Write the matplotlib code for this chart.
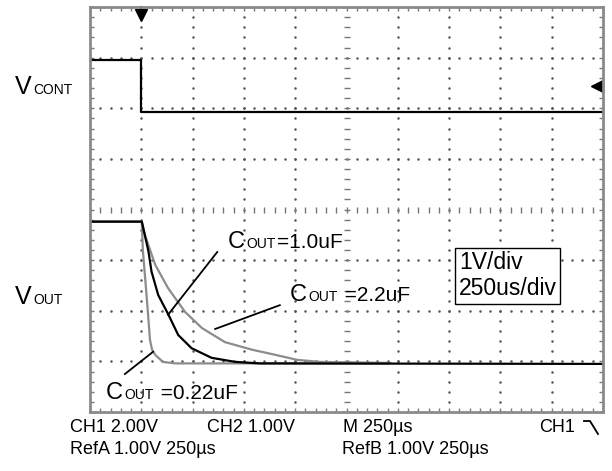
import numpy as np
import matplotlib
matplotlib.use("Agg")
import matplotlib.pyplot as plt
from matplotlib.offsetbox import TextArea, HPacker, AnnotationBbox

plt.rcParams['font.family'] = ['Liberation Sans', 'DejaVu Sans']

# traces, in screen divisions (x: 250us/div, y: 1V/div)
vcont_t = [0.0, 1.0, 1.0, 10.0]
vcont_v = [6.95, 6.95, 5.93, 5.93]

vout_1u0_t = [0.0, 1.01, 1.14, 1.20, 1.33, 1.53, 1.72, 1.98, 2.37, 2.83, 3.31, 10.0]
vout_1u0_v = [3.76, 3.76, 3.17, 2.77, 2.31, 1.92, 1.52, 1.26, 1.07, 0.99, 0.96, 0.95]

vout_0u22_t = [0.0, 1.01, 1.03, 1.11, 1.17, 1.21, 1.27, 1.42, 1.66, 5.8]
vout_0u22_v = [3.76, 3.76, 3.20, 2.21, 1.42, 1.23, 1.13, 0.99, 0.96, 0.96]

vout_2u2_t = [0.0, 1.01, 1.07, 1.27, 1.52, 1.85, 2.18, 2.63, 3.16, 3.61, 4.04, 4.48, 5.85]
vout_2u2_v = [3.76, 3.76, 3.50, 2.91, 2.45, 1.98, 1.66, 1.38, 1.23, 1.13, 1.03, 0.99, 0.97]

# label text + leader lines (from label to curve)
labels = ["=1.0uF", " =2.2uF", " =0.22uF"]
label_pos = [(2.69, 3.36), (3.90, 2.31), (0.31, 0.38)]
leader_x = [[2.48, 1.52], [3.70, 2.44], [1.23, 0.68]]
leader_y = [[3.16, 1.92], [2.11, 1.64], [1.19, 0.75]]

top_row = ["CH1 2.00V", "CH2 1.00V", "M 250µs", "CH1"]
top_row_x = [70, 207, 343, 539]
bottom_row = ["RefA 1.00V 250µs", "RefB 1.00V 250µs"]
bottom_row_x = [70, 342]

W, H = 612, 471
fig = plt.figure(figsize=(W / 100, H / 100), dpi=100)
ax = fig.add_axes([90 / W, 1 - 412 / H, 513 / W, 405 / H])
ax.set_xlim(0, 10)
ax.set_ylim(0, 8)

# graticule
for s in ax.spines.values():
    s.set_color("#8a8a8a")
    s.set_linewidth(2)
ax.set_xticks(np.arange(0, 10.01, 1))
ax.set_yticks(np.arange(0, 8.01, 1))
ax.set_xticks(np.arange(0, 10.01, 0.2), minor=True)
ax.set_yticks(np.arange(0, 8.01, 0.2), minor=True)
ax.tick_params(which="both", direction="in", length=3, width=1, color="#7a7a7a",
               top=True, right=True, labelbottom=False, labelleft=False)

gx = np.arange(0, 10.01, 0.2)
gy = np.arange(0, 8.01, 0.2)
for k in range(1, 10):
    if k != 5:
        ax.plot(np.full_like(gy, k), gy, ls="none", marker=".", ms=1.6, color="#555555")
for k in range(1, 8):
    if k != 4:
        ax.plot(gx, np.full_like(gx, k), ls="none", marker=".", ms=1.6, color="#555555")
ax.plot(gx, np.full_like(gx, 4), ls="none", marker="|", ms=5, mew=1, color="#777777")
ax.plot(np.full_like(gy, 5), gy, ls="none", marker="_", ms=5, mew=1, color="#777777")

# traces
ax.plot(vout_2u2_t, vout_2u2_v, color="#8c8c8c", lw=1.6)
ax.plot(vout_0u22_t, vout_0u22_v, color="#8c8c8c", lw=1.6)
ax.plot(vout_1u0_t, vout_1u0_v, color="black", lw=1.6)
ax.plot(vcont_t, vcont_v, color="black", lw=1.6)

# trigger markers
ax.plot([1.0], [7.84], marker="v", ms=8, color="black", clip_on=False)
ax.plot([1.0, 1.0], [7.84, 8.0], color="black", lw=1.5, clip_on=False)
ax.plot([9.88], [6.43], marker="<", ms=8, color="black", clip_on=False)
ax.plot([9.88, 10.0], [6.43, 6.43], color="black", lw=1.5, clip_on=False)

# labels with leader lines
for txt, (lx, ly), xs, ys in zip(labels, label_pos, leader_x, leader_y):
    ax.plot(xs, ys, color="black", lw=1.3)
    box = HPacker(children=[TextArea("C", textprops=dict(size=17)),
                            TextArea("OUT", textprops=dict(size=10)),
                            TextArea(txt, textprops=dict(size=15))],
                  align="baseline", pad=0, sep=1)
    ab = AnnotationBbox(box, (lx, ly), box_alignment=(0, 0.5), frameon=False, pad=0)
    ax.add_artist(ab)

ax.text(7.19, 2.69, "1V/div\n250us/div", fontsize=16.5, va="center", ha="left",
        linespacing=1.15,
        bbox=dict(boxstyle="square,pad=0.15", fc="white", ec="black", lw=1))

# channel names on the left
for name, yc in [("CONT", 87), ("OUT", 297)]:
    box = HPacker(children=[TextArea("V", textprops=dict(size=18)),
                            TextArea(name, textprops=dict(size=10))],
                  align="baseline", pad=0, sep=1)
    ab = AnnotationBbox(box, (15 / W, 1 - yc / H), xycoords="figure fraction",
                        box_alignment=(0, 0.5), frameon=False, pad=0)
    fig.add_artist(ab)

# scope readout
for s, x in zip(top_row, top_row_x):
    fig.text(x / W, 1 - 428 / H, s, fontsize=13, va="center", ha="left")
for s, x in zip(bottom_row, bottom_row_x):
    fig.text(x / W, 1 - 450 / H, s, fontsize=13, va="center", ha="left")
fig.add_artist(plt.Line2D([584 / W, 590 / W, 598 / W], [1 - 421 / H, 1 - 421 / H, 1 - 434 / H],
                          color="black", lw=1.3))

fig.savefig("out.png", dpi=100)
